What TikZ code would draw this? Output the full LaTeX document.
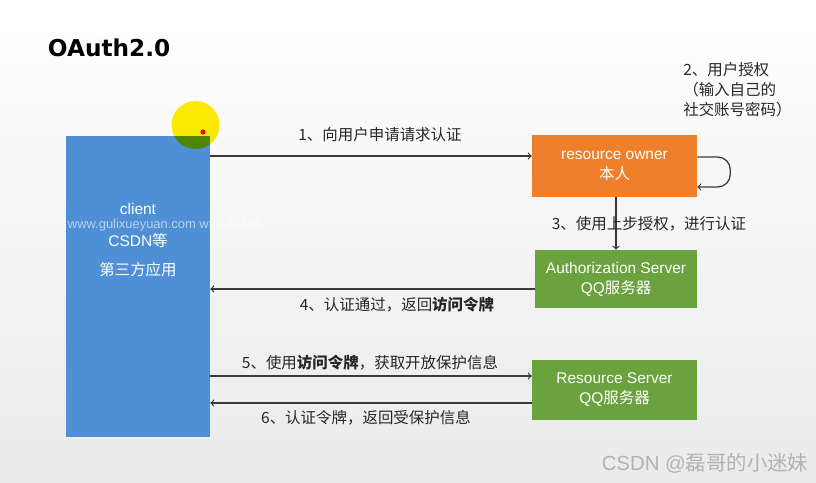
\documentclass[tikz,border=0pt]{standalone}
\usepackage{fontspec}
\setmainfont{Liberation Sans}
\newfontfamily\cjk{Noto Sans CJK SC}
\newfontfamily\titlefont{DejaVu Sans}
\definecolor{clientblue}{HTML}{4F8FD6}
\definecolor{ownerorange}{HTML}{F07F2C}
\definecolor{servergreen}{HTML}{6AA23D}
\definecolor{linegray}{HTML}{3A3A3A}
\definecolor{hiyellow}{HTML}{FFEE00}
\begin{document}
\begin{tikzpicture}[x=0.025cm,y=-0.025cm,
  box/.style={inner sep=0pt,text=white,align=center,
    font=\fontsize{11}{14.2}\selectfont},
  flow/.style={->,draw=linegray,line width=0.9pt},
  steplabel/.style={inner sep=0pt,text=black!85,
    font=\fontsize{11}{14.2}\selectfont\cjk}]
\useasboundingbox (0,0) rectangle (816,482);
\shade[top color=white,bottom color=gray!16] (0,0) rectangle (816,482);

\node[font=\fontsize{16.5}{20}\selectfont\titlefont\bfseries,anchor=west] (title) at (43,48) {OAuth2.0};

% boxes
\node[box,fill=clientblue,minimum width=3.6cm,minimum height=7.525cm] (client) at (138,286.5) {};
\node[box,font=\fontsize{11}{20.5}\selectfont] (clienttxt) at (138,240) {client\\[2pt]CSDN{\cjk 等}\\{\cjk 第三方应用}};
\node[box,fill=ownerorange,minimum width=4.125cm,minimum height=1.55cm] (owner) at (614.5,166) {resource owner\\{\cjk 本人}};
\node[box,fill=servergreen,minimum width=4.05cm,minimum height=1.45cm] (authsrv) at (616,279) {Authorization Server\\QQ{\cjk 服务器}};
\node[box,fill=servergreen,minimum width=4.125cm,minimum height=1.5cm] (ressrv) at (614.5,390) {Resource Server\\QQ{\cjk 服务器}};

% cursor highlight
\fill[hiyellow,blend mode=multiply] (195.5,125) circle (24);
\fill[red] (203,132) circle (2.6);

% arrow levels
\coordinate (y1) at (0,156);
\coordinate (y2a) at (0,157);
\coordinate (y2b) at (0,187);
\coordinate (y4) at (0,289);
\coordinate (y5) at (0,376);
\coordinate (y6) at (0,403);

\draw[flow] (client.east |- y1) -- (owner.west |- y1);
\draw[flow,rounded corners=9pt] (owner.east |- y2a) -- ++(33,0) -- ++(0,30) -- (owner.east |- y2b);
\draw[flow] (owner.south -| authsrv.north) -- (authsrv.north);
\draw[flow] (authsrv.west |- y4) -- (client.east |- y4);
\draw[flow] (client.east |- y5) -- (ressrv.west |- y5);
\draw[flow] (ressrv.west |- y6) -- (client.east |- y6);

% labels
\node[steplabel] (lab1) at (380,135) {1、向用户申请请求认证};
\node[steplabel,align=left,anchor=west] (lab2) at (683,90) {2、用户授权\\（输入自己的\\社交账号密码）};
\node[steplabel] (lab3) at (649,224) {3、使用上步授权，进行认证};
\node[steplabel] (lab4) at (397,305) {4、认证通过，返回\textbf{访问令牌}};
\node[steplabel] (lab5) at (370,363) {5、使用\textbf{访问令牌}，获取开放保护信息};
\node[steplabel] (lab6) at (366,418) {6、认证令牌，返回受保护信息};

% watermarks
\node[font=\fontsize{9.2}{11}\selectfont,text=white,opacity=0.6] (mark) at (165,225) {www.gulixueyuan.com wts123456};
\node[font=\fontsize{14.5}{16}\selectfont,text=gray!60] (csdn) at (705,463) {CSDN @{\cjk 磊哥的小迷妹}};
\end{tikzpicture}
\end{document}
